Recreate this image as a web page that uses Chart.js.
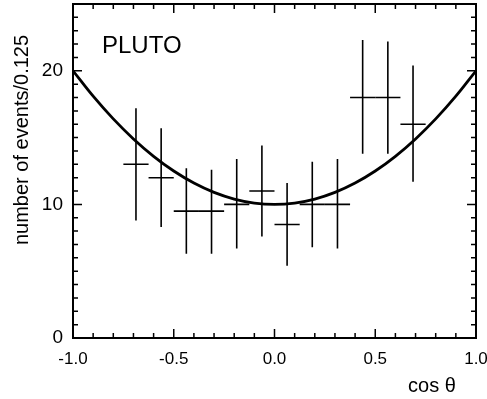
<!DOCTYPE html>
<html>
<head>
<meta charset="utf-8">
<script src="https://cdn.jsdelivr.net/npm/chart.js@4.4.0/dist/chart.umd.min.js"></script>
<style>
  html, body { margin: 0; padding: 0; background: #fff; }
  #wrap { width: 487px; height: 399px; }
</style>
</head>
<body>
<div id="wrap"><canvas id="plutoChart"></canvas></div>
<script>
// bins in cos(theta), width 0.125
const binCenters = [-0.6875, -0.5625, -0.4375, -0.3125, -0.1875, -0.0625, 0.0625, 0.1875, 0.3125, 0.4375, 0.5625, 0.6875];
const binHalfWidth = 0.0625;
const eventCounts = [13.0, 12.0, 9.5, 9.5, 10.0, 11.0, 8.5, 10.0, 10.0, 18.0, 18.0, 16.0];
const errTop = [17.2, 15.7, 12.7, 12.6, 13.4, 14.4, 11.6, 13.2, 13.4, 22.3, 22.2, 20.4];
const errBottom = [8.8, 8.3, 6.3, 6.3, 6.7, 7.6, 5.4, 6.8, 6.7, 13.8, 13.8, 11.7];

// expected curve
const curveX = [-1.0, -0.9, -0.8, -0.7, -0.6, -0.5, -0.4, -0.3, -0.2, -0.1, 0.0, 0.1, 0.2, 0.3, 0.4, 0.5, 0.6, 0.7, 0.8, 0.9, 1.0];
const curveY = [20.0, 18.1, 16.4, 14.9, 13.6, 12.5, 11.6, 10.9, 10.4, 10.1, 10.0, 10.1, 10.4, 10.9, 11.6, 12.5, 13.6, 14.9, 16.4, 18.1, 20.0];

const xTickLabels = ['-1.0', '-0.5', '0.0', '0.5', '1.0'];
const yTickLabels = ['0', '10', '20'];

const FONT = '"Liberation Sans", Arial, sans-serif';

// crosses, frame, inward ticks and free text
const pageDecor = {
    id: 'pageDecor',
    afterDatasetsDraw(chart) {
        const ctx = chart.ctx;
        const xs = chart.scales.x, ys = chart.scales.y;
        const a = chart.chartArea;
        ctx.save();
        ctx.strokeStyle = '#000';
        ctx.lineCap = 'butt';

        // error bars
        ctx.lineWidth = 1.6;
        binCenters.forEach((c, i) => {
            const px = xs.getPixelForValue(c);
            const py = ys.getPixelForValue(eventCounts[i]);
            ctx.beginPath();
            ctx.moveTo(xs.getPixelForValue(c - binHalfWidth), py);
            ctx.lineTo(xs.getPixelForValue(c + binHalfWidth), py);
            ctx.moveTo(px, ys.getPixelForValue(errTop[i]));
            ctx.lineTo(px, ys.getPixelForValue(errBottom[i]));
            ctx.stroke();
        });

        // frame
        ctx.lineWidth = 2;
        ctx.strokeRect(a.left, a.top, a.right - a.left, a.bottom - a.top);

        // x ticks every 0.1, both edges
        ctx.lineWidth = 1.5;
        for (let k = -10; k <= 10; k++) {
            const px = xs.getPixelForValue(k / 10);
            const len = (k % 5 === 0) ? 9 : 5;
            ctx.beginPath();
            ctx.moveTo(px, a.bottom); ctx.lineTo(px, a.bottom - len);
            ctx.moveTo(px, a.top); ctx.lineTo(px, a.top + len);
            ctx.stroke();
        }
        // y ticks every 1
        for (let v = 0; v <= 25; v++) {
            const py = ys.getPixelForValue(v);
            const len = (v % 10 === 0) ? 9 : 5;
            ctx.beginPath();
            ctx.moveTo(a.left, py); ctx.lineTo(a.left + len, py);
            ctx.moveTo(a.right, py); ctx.lineTo(a.right - len, py);
            ctx.stroke();
        }

        ctx.fillStyle = '#000';
        ctx.font = '24px ' + FONT;
        ctx.textAlign = 'left';
        ctx.textBaseline = 'alphabetic';
        ctx.fillText('PLUTO', 102, 53);

        ctx.font = '20px ' + FONT;
        ctx.textAlign = 'center';
        ctx.textBaseline = 'alphabetic';
        ctx.fillText('cos θ', 432, 392);

        ctx.translate(22, 140);
        ctx.rotate(-Math.PI / 2);
        ctx.textBaseline = 'middle';
        ctx.font = '20px ' + FONT;
        ctx.fillText('number of events/0.125', 0, 0);
        ctx.restore();
    }
};

new Chart(document.getElementById('plutoChart'), {
    type: 'scatter',
    data: {
        datasets: [{
            label: 'fit',
            data: curveX.map((x, i) => ({ x: x, y: curveY[i] })),
            showLine: true,
            borderColor: '#000',
            borderWidth: 2.8,
            pointRadius: 0,
            tension: 0.4,
            fill: false
        }]
    },
    options: {
        responsive: true,
        maintainAspectRatio: false,
        animation: false,
        layout: { padding: { left: 0, top: 4, right: 11, bottom: 0 } },
        plugins: {
            legend: { display: false },
            tooltip: { enabled: false }
        },
        scales: {
            x: {
                type: 'linear',
                min: -1,
                max: 1,
                grid: { display: false, drawTicks: false },
                border: { display: false },
                ticks: {
                    stepSize: 0.5,
                    padding: 11,
                    color: '#000',
                    font: { family: FONT, size: 17 },
                    callback: (v) => xTickLabels[Math.round((v + 1) * 2)]
                },
                afterFit: (s) => { s.height = 61; s.paddingLeft = 0; s.paddingRight = 0; }
            },
            y: {
                type: 'linear',
                min: 0,
                max: 25,
                grid: { display: false, drawTicks: false },
                border: { display: false },
                ticks: {
                    stepSize: 10,
                    padding: 10,
                    color: '#000',
                    font: { family: FONT, size: 19 },
                    callback: (v) => yTickLabels[v / 10]
                },
                afterFit: (s) => { s.width = 73; s.paddingTop = 0; s.paddingBottom = 0; }
            }
        }
    },
    plugins: [pageDecor]
});
</script>
</body>
</html>
